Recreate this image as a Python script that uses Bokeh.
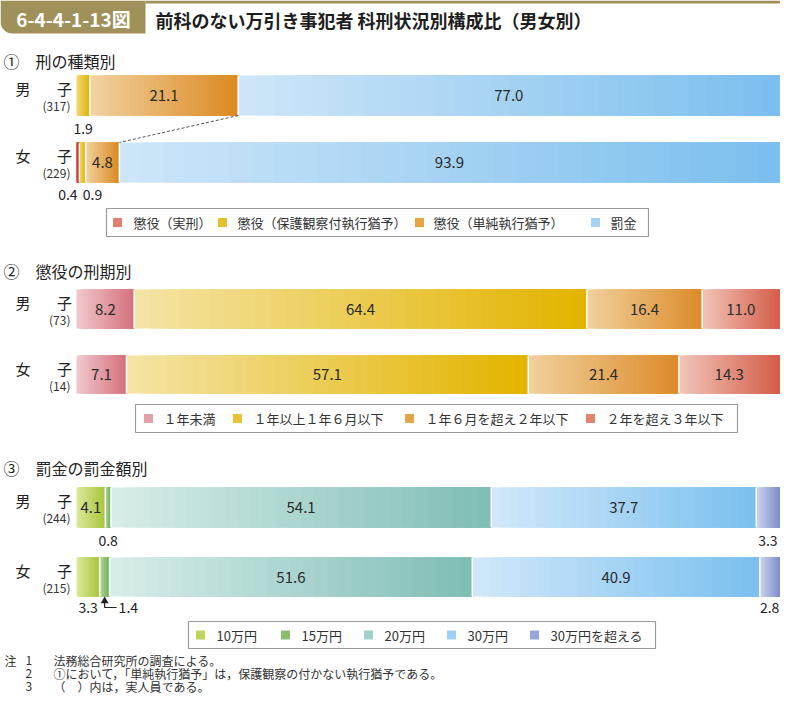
import numpy as np
from bokeh.plotting import figure
from bokeh.models import Range1d
from bokeh.core.properties import value
from bokeh.embed import file_html
from bokeh.resources import INLINE

# ---------------- data ----------------
title_text = "前科のない万引き事犯者 科刑状況別構成比（男女別）"
fig_no = "6-4-4-1-13図"

s1_title = "刑の種類別"
s1_categories = ["懲役（実刑）", "懲役（保護観察付執行猶予）", "懲役（単純執行猶予）", "罰金"]
s1_male = [0.0, 1.9, 21.1, 77.0]
s1_female = [0.4, 0.9, 4.8, 93.9]
s1_n = [317, 229]

s2_title = "懲役の刑期別"
s2_categories = ["１年未満", "１年以上１年６月以下", "１年６月を超え２年以下", "２年を超え３年以下"]
s2_male = [8.2, 64.4, 16.4, 11.0]
s2_female = [7.1, 57.1, 21.4, 14.3]
s2_n = [73, 14]

s3_title = "罰金の罰金額別"
s3_categories = ["10万円", "15万円", "20万円", "30万円", "30万円を超える"]
s3_male = [4.1, 0.8, 54.1, 37.7, 3.3]
s3_female = [3.3, 1.4, 51.6, 40.9, 2.8]
s3_n = [244, 215]

notes = [
    ("注", "1", "法務総合研究所の調査による。"),
    ("", "2", "①において，「単純執行猶予」は，保護観察の付かない執行猶予である。"),
    ("", "3", "（　）内は，実人員である。"),
]

# ---------------- styles ----------------
FONT = value("Noto Sans CJK JP")
OLIVE = "#a0915a"
TXT = "#222222"

pal1 = [("#e05a4a", "#c80f0f"), ("#f3d77a", "#e2b300"), ("#f1d1a0", "#dc8a22"), ("#cde5f8", "#7cbfee")]
leg1 = ["#e0806e", "#e6c02c", "#e6a442", "#a6d3f4"]
pal2 = [("#f0c8cc", "#d4717d"), ("#f4e3a4", "#e3b400"), ("#f1cf9c", "#dc8c2a"), ("#f1c3b8", "#d45e4a")]
leg2 = ["#e3a0a8", "#e8c43a", "#e6a44a", "#e08470"]
pal3 = [("#dce89c", "#a8c63a"), ("#b8d69e", "#70ac58"), ("#d6ece9", "#80beb4"), ("#d0e7f9", "#7bc0ef"), ("#ccd3ee", "#7e8fcb")]
leg3 = ["#bcd55a", "#8cbd6e", "#a2d0c9", "#9dd0f3", "#98a6d8"]

W, H = 780, 695
BAR_L, BAR_R = 76, 779
PPP = (BAR_R - BAR_L) / 100.0

p = figure(width=W, height=H, x_range=Range1d(0, W), y_range=Range1d(H, 0),
           output_backend="svg", toolbar_location=None, min_border=0,
           x_axis_type=None, y_axis_type=None)
p.extra_x_ranges = {"pct": Range1d(-BAR_L / PPP, (W - BAR_L) / PPP)}
p.grid.visible = False
p.outline_line_color = None
p.background_fill_color = "white"
p.border_fill_color = "white"


def hex2rgb(h):
    return np.array([int(h[i:i + 2], 16) for i in (1, 3, 5)], float)


def mix(c1, c2, t):
    c = hex2rgb(c1) * (1 - t) + hex2rgb(c2) * t
    return "#%02x%02x%02x" % tuple(int(round(v)) for v in c)


def txt(x, y, s, size, align="left", color=TXT, weight="normal", rng="default", xoff=0):
    p.text(x=[x], y=[y], text=[s], text_font=FONT, text_font_size=size, text_align=align,
           text_baseline="middle", text_color=color, text_font_style=weight,
           x_range_name=rng, x_offset=xoff)


def draw_bar(vals, pal, top, bottom, n_strips=30):
    vals = np.array(vals, float)
    edges = np.concatenate([[0], np.cumsum(vals)]) / vals.sum() * 100
    lefts, rights, colors = [], [], []
    for i, (light, dark) in enumerate(pal):
        L, R = edges[i], edges[i + 1]
        if R <= L:
            continue
        for k in range(n_strips):
            t = k / (n_strips - 1)
            lefts.append(L + (R - L) * k / n_strips)
            rights.append(R)
            colors.append(mix(light, dark, t))
    p.quad(left=lefts, right=rights, top=top, bottom=bottom, fill_color=colors,
           line_color=None, x_range_name="pct")
    inner = [e for e in edges[1:-1] if 0.05 < e < 99.95]
    p.segment(x0=inner, x1=inner, y0=top, y1=bottom, line_color="white",
              line_width=1.5, x_range_name="pct")
    return edges


def row_label(sex, n, top):
    txt(22.5, top + 13, sex, "15px", align="center")
    txt(64, top + 13, "子", "15px", align="center")
    txt(70, top + 30, "(%d)" % n, "12px", align="right", color="#333333")


def inside_labels(vals, edges, top, bottom, thr=4.0):
    for i, v in enumerate(vals):
        if v >= thr:
            c = (edges[i] + edges[i + 1]) / 2
            txt(c, (top + bottom) / 2, "%.1f" % v, "15px", align="center", rng="pct", color="#2a2a2a")


def outside_label(vals, edges, i, y, xoff=0):
    c = (edges[i] + edges[i + 1]) / 2
    txt(c, y, "%.1f" % vals[i], "14px", align="center", rng="pct", xoff=xoff)


def legend(box, sq_x, tx_x, cats, cols):
    x0, x1, y0, y1 = box
    p.quad(left=[x0], right=[x1], top=[y0], bottom=[y1], fill_color="white",
           line_color="#9a9a9a", line_width=1.2)
    yc = (y0 + y1) / 2
    p.scatter(x=sq_x, y=[yc] * len(sq_x), marker="square", size=9, fill_color=cols, line_color=None)
    for x, c in zip(tx_x, cats):
        txt(x, yc, c, "13px", color="#333333")


# ---------------- header ----------------
p.quad(left=[0], right=[145], top=[0], bottom=[33], fill_color=OLIVE, line_color=None,
       border_radius=(0, 0, 0, 12))
p.quad(left=[145], right=[W], top=[0], bottom=[3], fill_color=OLIVE, line_color=None)
txt(73, 18, fig_no, "19px", align="center", color="white", weight="bold")
txt(155, 19, title_text, "18px", weight="bold", color="#1e1e1e")

# ---------------- section 1 ----------------
txt(3, 60, "①", "16px")
txt(35, 60, s1_title, "16px")
m1 = (75, 115)
f1 = (142, 182)
e1m = draw_bar(s1_male, pal1, *m1)
e1f = draw_bar(s1_female, pal1, *f1)
row_label("男", s1_n[0], m1[0])
row_label("女", s1_n[1], f1[0])
inside_labels(s1_male, e1m, *m1)
inside_labels(s1_female, e1f, *f1)
outside_label(s1_male, e1m, 1, m1[1] + 13)
outside_label(s1_female, e1f, 0, f1[1] + 12, xoff=-10)
outside_label(s1_female, e1f, 1, f1[1] + 12, xoff=10)
p.line(x=[e1m[3], e1f[3]], y=[m1[1], f1[0]], line_color="#555555", line_dash="3 2",
       line_width=1, x_range_name="pct")
legend((106, 648, 208, 236), [117, 222, 419, 595], [133, 237, 433, 610], s1_categories, leg1)

# ---------------- section 2 ----------------
txt(3, 270, "②", "16px")
txt(35, 270, s2_title, "16px")
m2 = (289, 328)
f2 = (355, 393)
e2m = draw_bar(s2_male, pal2, *m2)
e2f = draw_bar(s2_female, pal2, *f2)
row_label("男", s2_n[0], m2[0])
row_label("女", s2_n[1], f2[0])
inside_labels(s2_male, e2m, *m2)
inside_labels(s2_female, e2f, *f2)
legend((135, 737, 404, 432), [148, 237, 409, 590], [163, 253, 425, 606], s2_categories, leg2)

# ---------------- section 3 ----------------
txt(3, 467, "③", "16px")
txt(35, 467, s3_title, "16px")
m3 = (487, 527)
f3 = (557, 596)
e3m = draw_bar(s3_male, pal3, *m3)
e3f = draw_bar(s3_female, pal3, *f3)
row_label("男", s3_n[0], m3[0])
row_label("女", s3_n[1], f3[0])
inside_labels(s3_male, e3m, *m3)
inside_labels(s3_female, e3f, *f3)
outside_label(s3_male, e3m, 1, m3[1] + 13)
outside_label(s3_male, e3m, 4, m3[1] + 13)
outside_label(s3_female, e3f, 0, f3[1] + 11)
outside_label(s3_female, e3f, 4, f3[1] + 11)
ax = (e3f[1] + e3f[2]) / 2
p.scatter(x=[ax], y=[f3[1] + 4.5], marker="triangle", size=8, fill_color="#222222",
          line_color=None, x_range_name="pct")
p.line(x=[ax, ax, ax + 12 / PPP], y=[f3[1] + 6, f3[1] + 11, f3[1] + 11], line_color="#222222",
       line_width=1.2, x_range_name="pct")
txt(ax, f3[1] + 11, "%.1f" % s3_female[1], "14px", rng="pct", xoff=14)
legend((188, 655, 621, 648), [200, 285, 368, 451, 534], [216, 301, 384, 467, 550], s3_categories, leg3)

# ---------------- notes ----------------
for i, (a, b, c) in enumerate(notes):
    y = 660 + i * 13
    if a:
        txt(4, y, a, "12px", color="#333333")
    txt(25, y, b, "12px", color="#333333")
    txt(53, y, c, "12px", color="#333333")

open("out.html", "w").write(file_html(p, INLINE))
